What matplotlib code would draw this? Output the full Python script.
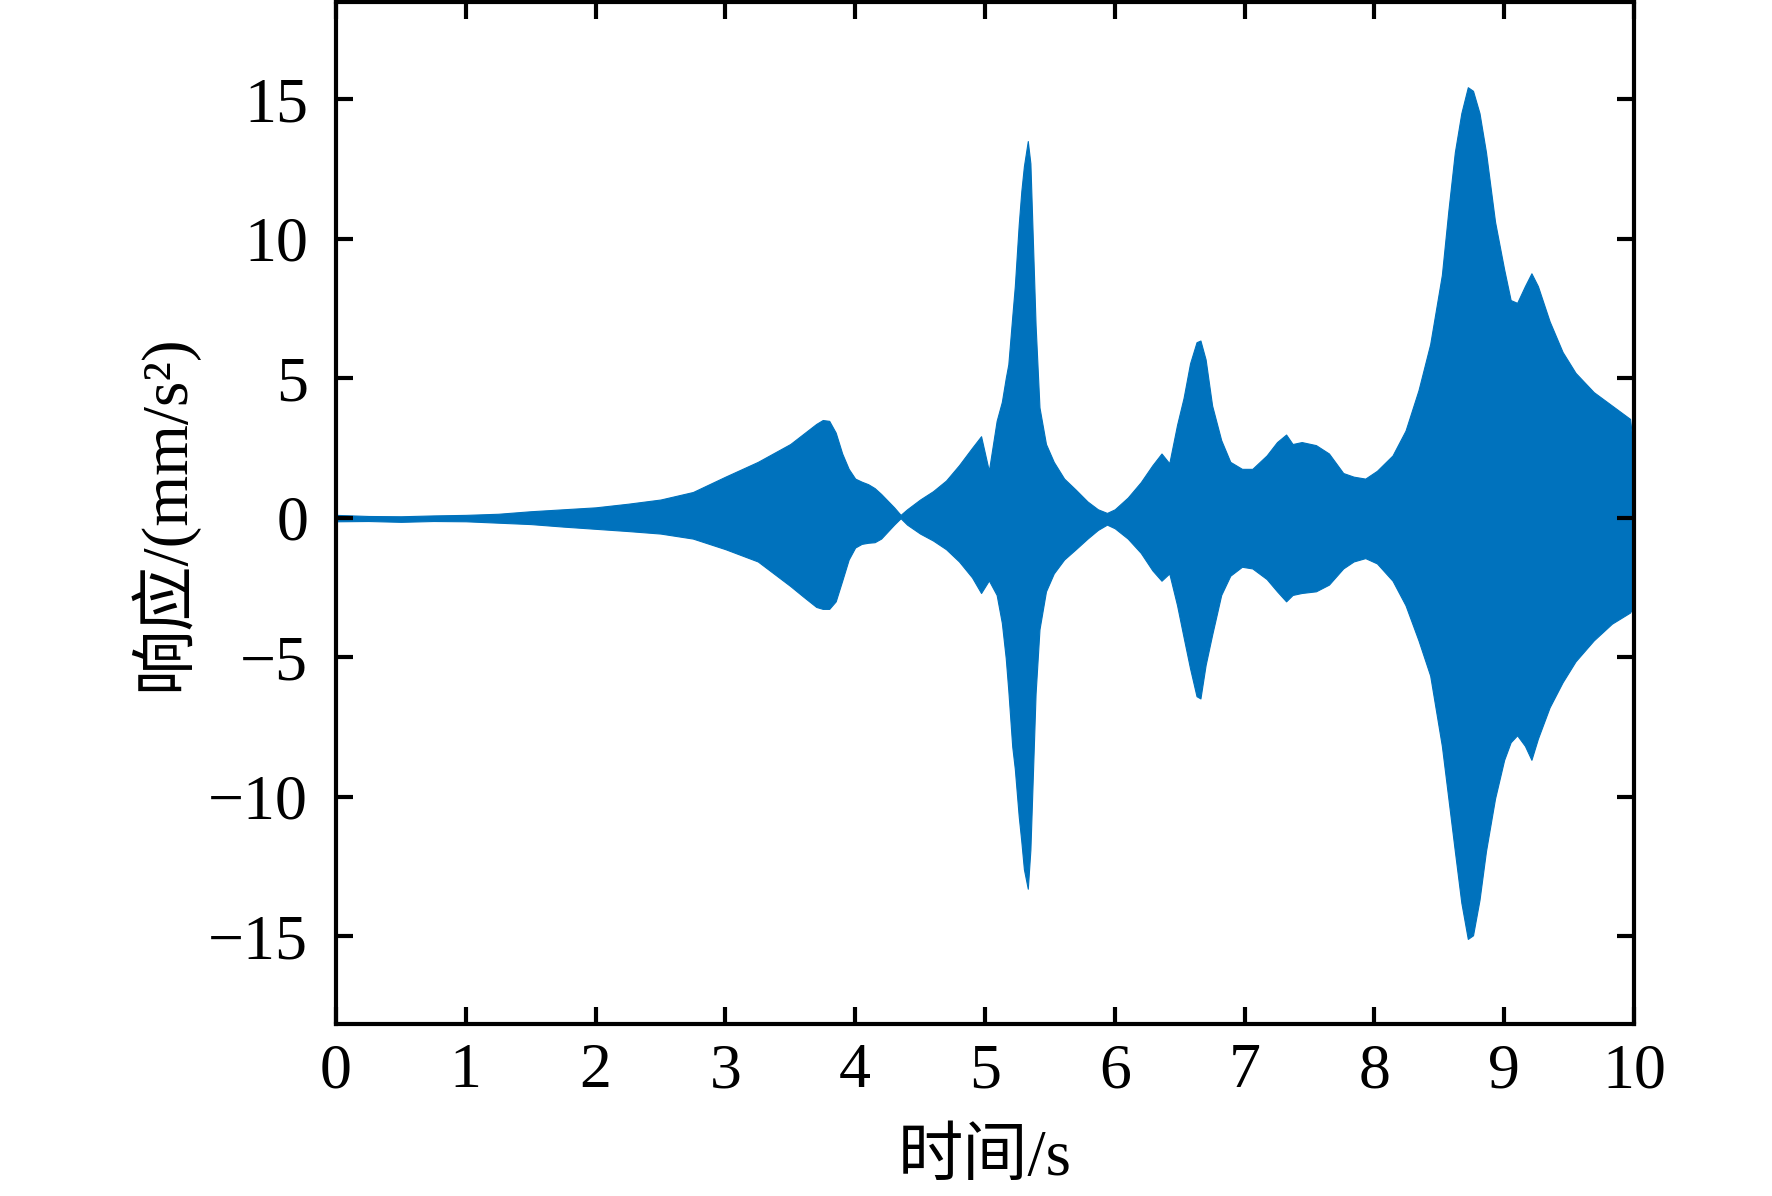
import numpy as np
import matplotlib
matplotlib.use('Agg')
import matplotlib.pyplot as plt

plt.rcParams['font.family'] = ['Liberation Serif', 'Noto Sans CJK SC', 'DejaVu Sans']

# envelope of the response signal
time_s = [0.00, 0.25, 0.50, 0.75, 1.00, 1.25, 1.50, 1.75, 2.00, 2.25,
          2.50, 2.75, 3.00, 3.25, 3.50, 3.60, 3.70, 3.75, 3.80, 3.85,
          3.90, 3.95, 4.00, 4.05, 4.10, 4.15, 4.20, 4.30, 4.35, 4.40,
          4.50, 4.60, 4.70, 4.80, 4.90, 4.97, 5.03, 5.09, 5.13, 5.16,
          5.18, 5.21, 5.23, 5.26, 5.28, 5.30, 5.33, 5.35, 5.39, 5.42,
          5.47, 5.53, 5.61, 5.70, 5.79, 5.87, 5.94, 6.00, 6.10, 6.20,
          6.29, 6.36, 6.42, 6.48, 6.53, 6.58, 6.63, 6.66, 6.70, 6.75,
          6.82, 6.89, 6.98, 7.06, 7.17, 7.25, 7.32, 7.37, 7.44, 7.55,
          7.65, 7.76, 7.84, 7.93, 8.02, 8.14, 8.24, 8.34, 8.43, 8.52,
          8.57, 8.62, 8.67, 8.72, 8.76, 8.81, 8.86, 8.93, 9.00, 9.05,
          9.10, 9.16, 9.21, 9.26, 9.35, 9.45, 9.55, 9.69, 9.83, 9.97,
          10.00]
upper = [0.10, 0.06, 0.05, 0.08, 0.10, 0.14, 0.23, 0.30, 0.37, 0.50,
         0.65, 0.92, 1.47, 2.00, 2.64, 3.00, 3.36, 3.50, 3.47, 3.05,
         2.30, 1.75, 1.40, 1.29, 1.20, 1.06, 0.85, 0.37, 0.10, 0.30,
         0.65, 0.95, 1.33, 1.88, 2.50, 2.92, 1.68, 3.47, 4.15, 5.00,
         5.50, 7.20, 8.30, 10.50, 11.70, 12.60, 13.50, 12.70, 6.90, 3.95,
         2.64, 2.00, 1.40, 1.00, 0.58, 0.30, 0.17, 0.30, 0.72, 1.27,
         1.88, 2.30, 1.95, 3.33, 4.29, 5.53, 6.29, 6.35, 5.67, 4.02,
         2.78, 2.00, 1.75, 1.75, 2.23, 2.71, 2.98, 2.64, 2.71, 2.60,
         2.30, 1.60, 1.47, 1.40, 1.68, 2.23, 3.12, 4.57, 6.22, 8.70,
         11.00, 13.10, 14.50, 15.43, 15.30, 14.50, 13.10, 10.60, 8.90, 7.80,
         7.70, 8.30, 8.76, 8.30, 7.04, 5.94, 5.19, 4.50, 4.02, 3.54,
         2.30]
lower = [-0.13, -0.12, -0.15, -0.12, -0.13, -0.18, -0.23, -0.32, -0.40, -0.48,
         -0.57, -0.75, -1.13, -1.57, -2.45, -2.83, -3.20, -3.27, -3.27, -3.00,
         -2.26, -1.50, -1.07, -0.94, -0.90, -0.88, -0.75, -0.25, -0.02, -0.25,
         -0.57, -0.82, -1.13, -1.57, -2.14, -2.70, -2.25, -2.77, -3.77, -5.03,
         -6.20, -8.20, -9.00, -10.70, -11.60, -12.60, -13.30, -11.90, -6.30, -4.00,
         -2.64, -2.00, -1.50, -1.13, -0.75, -0.44, -0.25, -0.38, -0.75, -1.26,
         -1.89, -2.26, -2.00, -3.14, -4.28, -5.40, -6.40, -6.48, -5.28, -4.20,
         -2.77, -2.08, -1.76, -1.82, -2.20, -2.64, -3.00, -2.77, -2.70, -2.64,
         -2.40, -1.82, -1.57, -1.45, -1.64, -2.26, -3.14, -4.40, -5.66, -8.18,
         -10.06, -11.95, -13.80, -15.10, -14.97, -13.70, -11.95, -10.06, -8.68, -8.05,
         -7.80, -8.18, -8.68, -7.92, -6.80, -5.90, -5.15, -4.40, -3.80, -3.40,
         -3.14]

x_ticks = list(range(0, 11))
y_ticks = [-15, -10, -5, 0, 5, 10, 15]

fig = plt.figure(figsize=(17.72, 11.96), dpi=100)
ax = fig.add_axes([0.1896, 0.1438, 0.7325, 0.8549])

ax.fill_between(time_s, lower, upper, color='#0072BD', linewidth=0.8, edgecolor='#0072BD')

ax.set_xlim(0, 10)
ax.set_ylim(-18.15, 18.5)
ax.set_xticks(x_ticks)
ax.set_yticks(y_ticks)
ax.set_yticklabels(['\u2212' + str(-v) if v < 0 else str(v) for v in y_ticks])

for s in ax.spines.values():
    s.set_linewidth(3.0)
ax.tick_params(direction='in', length=12, width=3.0, top=True, right=True,
               labelsize=46)
ax.tick_params(axis='y', pad=20)
ax.tick_params(axis='x', pad=14)

ax.set_xlabel('时间/s', fontsize=47, labelpad=20)
ax.set_ylabel('响应/(mm/s²)', fontsize=47, labelpad=8)

fig.savefig('out.png', dpi=100)
